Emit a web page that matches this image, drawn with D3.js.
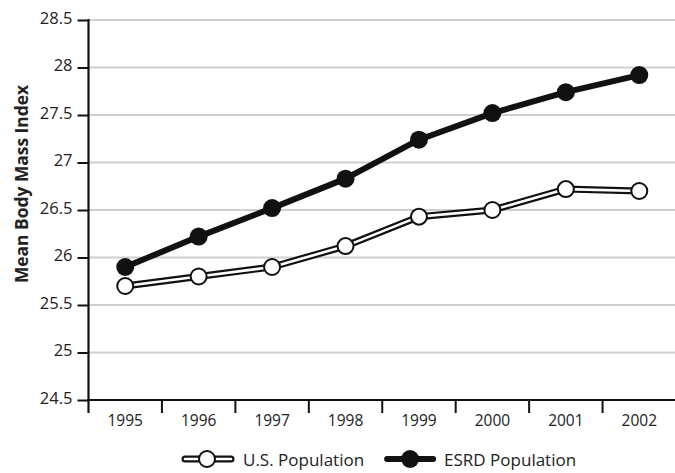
<!DOCTYPE html>
<html><head><meta charset="utf-8">
<script src="https://cdn.jsdelivr.net/npm/d3@7"></script>
<style>body{margin:0;background:#fff}svg{display:block}text{font-family:"Open Sans",sans-serif;fill:#222}</style>
</head><body>
<svg id="c" width="675" height="473"></svg>
<script>
const years = ["1995","1996","1997","1998","1999","2000","2001","2002"];
const usPopulation = [25.7, 25.8, 25.9, 26.12, 26.43, 26.5, 26.72, 26.7];
const esrdPopulation = [25.9, 26.22, 26.52, 26.83, 27.24, 27.52, 27.74, 27.92];
const yTicks = [24.5, 25, 25.5, 26, 26.5, 27, 27.5, 28, 28.5];
const yTitle = "Mean Body Mass Index";
const seriesNames = ["U.S. Population", "ESRD Population"];

const svg = d3.select("#c");
const mLeft = 88.5, mRight = 676, mTop = 20, mBottom = 400;
const x = d3.scaleBand().domain(years).range([mLeft, mRight]).padding(0);
const y = d3.scaleLinear().domain([24.5, 28.5]).range([mBottom, mTop]);

// gridlines
svg.append("g").selectAll("line").data(yTicks.slice(1)).join("line")
  .attr("x1", mLeft).attr("x2", 675).attr("y1", d => y(d)).attr("y2", d => y(d))
  .attr("stroke", "#cfcfcf").attr("stroke-width", 2);

// y axis
const yAxis = svg.append("g").attr("transform", `translate(${mLeft},0)`)
  .call(d3.axisLeft(y).tickValues(yTicks).tickSize(11).tickPadding(5).tickFormat(d => String(d)));
yAxis.select(".domain").remove();
yAxis.selectAll(".tick line").attr("stroke", "#111").attr("stroke-width", 2);
yAxis.selectAll("text").style("font-size", "16.5px").attr("fill", "#222").attr("dy", "0.2em");
svg.append("line").attr("x1", mLeft).attr("x2", mLeft).attr("y1", y(28.5) - 1).attr("y2", mBottom + 13)
  .attr("stroke", "#111").attr("stroke-width", 2.2);

// x axis
const xAxis = svg.append("g").attr("transform", `translate(0,${mBottom})`)
  .call(d3.axisBottom(x).tickSize(0).tickPadding(15));
xAxis.select(".domain").remove();
xAxis.selectAll("text").style("font-size", "15.5px").attr("fill", "#222");
svg.append("g").selectAll("line").data(years.slice(1)).join("line")
  .attr("x1", d => x(d)).attr("x2", d => x(d)).attr("y1", mBottom).attr("y2", mBottom + 13)
  .attr("stroke", "#111").attr("stroke-width", 2);
svg.append("line").attr("x1", mLeft - 1).attr("x2", 675).attr("y1", mBottom).attr("y2", mBottom)
  .attr("stroke", "#111").attr("stroke-width", 2.2);

// y title
svg.append("text").attr("transform", `translate(28,184) rotate(-90)`)
  .attr("text-anchor", "middle").style("font-size", "17.4px").style("font-weight", "bold")
  .attr("fill", "#111").text(yTitle);

const cx = d => x(d) + x.bandwidth() / 2;
const line = d3.line().x((d, i) => cx(years[i])).y(d => y(d));

// US series: double line
svg.append("path").datum(usPopulation).attr("d", line).attr("fill", "none")
  .attr("stroke", "#111").attr("stroke-width", 7).attr("stroke-linejoin", "round");
svg.append("path").datum(usPopulation).attr("d", line).attr("fill", "none")
  .attr("stroke", "#fff").attr("stroke-width", 2.6).attr("stroke-linejoin", "round");
svg.append("g").selectAll("circle").data(usPopulation).join("circle")
  .attr("cx", (d, i) => cx(years[i])).attr("cy", d => y(d)).attr("r", 8)
  .attr("fill", "#fff").attr("stroke", "#111").attr("stroke-width", 2);

// ESRD series
svg.append("path").datum(esrdPopulation).attr("d", line).attr("fill", "none")
  .attr("stroke", "#111").attr("stroke-width", 6).attr("stroke-linejoin", "round");
svg.append("g").selectAll("circle").data(esrdPopulation).join("circle")
  .attr("cx", (d, i) => cx(years[i])).attr("cy", d => y(d)).attr("r", 9)
  .attr("fill", "#111");

// legend
const ly = 459;
const lg = svg.append("g");
lg.append("line").attr("x1", 185).attr("x2", 231).attr("y1", ly).attr("y2", ly)
  .attr("stroke", "#111").attr("stroke-width", 7).attr("stroke-linecap", "round");
lg.append("line").attr("x1", 185).attr("x2", 231).attr("y1", ly).attr("y2", ly)
  .attr("stroke", "#fff").attr("stroke-width", 2.6).attr("stroke-linecap", "round");
lg.append("circle").attr("cx", 207).attr("cy", ly).attr("r", 8)
  .attr("fill", "#fff").attr("stroke", "#111").attr("stroke-width", 2);
const t1 = lg.append("text").attr("x", 243).attr("y", ly + 7).style("font-size", "17px").text(seriesNames[0]);
const w1 = t1.node().getComputedTextLength();
const sx = 243 + w1 + 20;
lg.append("line").attr("x1", sx + 3).attr("x2", sx + 49).attr("y1", ly).attr("y2", ly)
  .attr("stroke", "#111").attr("stroke-width", 6).attr("stroke-linecap", "round");
lg.append("circle").attr("cx", sx + 26).attr("cy", ly).attr("r", 9).attr("fill", "#111");
lg.append("text").attr("x", sx + 60).attr("y", ly + 7).style("font-size", "17px").text(seriesNames[1]);
</script>
</body></html>
